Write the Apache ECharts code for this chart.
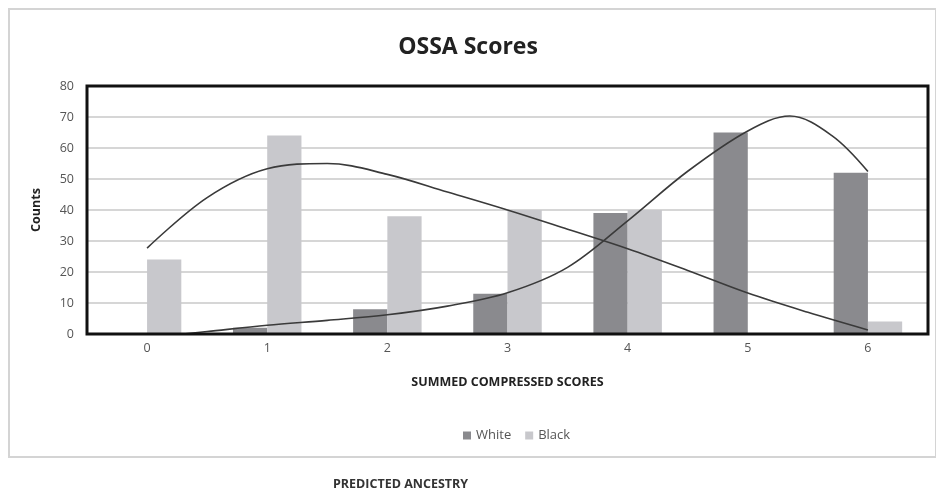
<!DOCTYPE html>
<html>
<head>
<meta charset="utf-8">
<script src="https://cdn.jsdelivr.net/npm/echarts@6/dist/echarts.min.js"></script>
<style>
html,body{margin:0;padding:0;background:#fff;}
#chart{width:936px;height:496px;}
</style>
</head>
<body>
<div id="chart"></div>
<script>
const categories = ['0','1','2','3','4','5','6'];
const whiteCounts = [0, 2, 8, 13, 39, 65, 52];
const blackCounts = [24, 64, 38, 40, 40, 0, 4];
// trend curves: [score, count]
const whiteTrend = [[0.3,0],[0.5,0.8],[1,2.8],[1.5,4.4],[2,6.2],[2.5,9],[3,13.3],[3.5,21.5],[4,36.5],[4.5,52.5],[5,65.5],[5.35,70.3],[5.7,64],[6,52.4]];
const blackTrend = [[0,27.7],[0.5,44],[1,53.3],[1.5,55],[2,51.5],[2.5,45.8],[3,40],[3.5,33.8],[4,27.5],[4.5,20.5],[5,13.2],[5.5,7],[6,1.3]];
const yTicks = {min:0, max:80, interval:10};

const chart = echarts.init(document.getElementById('chart'));
const font = 'Open Sans';
chart.setOption({
  animation:false,
  backgroundColor:'#fff',
  title:{text:'OSSA Scores', left:'center', top:31, itemGap:0,
    textStyle:{fontFamily:font, fontSize:23, fontWeight:'bold', color:'#222'}},
  legend:{data:['White','Black'], left:458, top:424, itemWidth:8, itemHeight:8, itemGap:14,
    icon:'rect', textStyle:{fontFamily:font, fontSize:13, color:'#555'}},
  grid:{left:87, right:8, top:86, bottom:162},
  xAxis:[{type:'category', data:categories, boundaryGap:true,
      axisLine:{show:false}, axisTick:{show:false},
      axisLabel:{fontFamily:font, fontSize:12.5, color:'#555', margin:8},
      name:'SUMMED COMPRESSED SCORES', nameLocation:'middle', nameGap:42,
      nameTextStyle:{fontFamily:font, fontSize:12.5, fontWeight:'bold', color:'#222'}},
    {type:'value', min:-0.5, max:6.5, show:false}],
  yAxis:{type:'value', min:yTicks.min, max:yTicks.max, interval:yTicks.interval,
    axisLine:{show:false}, axisTick:{show:false},
    axisLabel:{fontFamily:font, fontSize:12.5, color:'#555', margin:13},
    splitLine:{lineStyle:{color:'#d6d6d6', width:2}},
    name:'Counts', nameLocation:'middle', nameGap:44,
    nameTextStyle:{fontFamily:font, fontSize:12.5, fontWeight:'bold', color:'#222'}},
  series:[
    {name:'White', type:'bar', data:whiteCounts, barGap:'0%', barCategoryGap:'43%', itemStyle:{color:'#8a8a8e'}, z:2},
    {name:'Black', type:'bar', data:blackCounts, barGap:'0%', barCategoryGap:'43%', itemStyle:{color:'#c8c8cc'}, z:2},
    {name:'whiteTrend', type:'line', xAxisIndex:1, data:whiteTrend, smooth:0.35, symbol:'none',
      lineStyle:{color:'#3a3a3a', width:1.6}, z:5},
    {name:'blackTrend', type:'line', xAxisIndex:1, data:blackTrend, smooth:0.35, symbol:'none',
      lineStyle:{color:'#3a3a3a', width:1.6}, z:5}
  ],
  graphic:[
    {type:'rect', shape:{x:9, y:9, width:927, height:448}, style:{fill:'none', stroke:'#d4d4d4', lineWidth:2}, z:-1},
    {type:'rect', shape:{x:87, y:86, width:841, height:248}, style:{fill:'none', stroke:'#111', lineWidth:3}, z:10},
    {type:'text', left:333, top:478, style:{text:'PREDICTED ANCESTRY', font:'bold 12.5px "Open Sans"', fill:'#333'}}
  ]
});
</script>
</body>
</html>
